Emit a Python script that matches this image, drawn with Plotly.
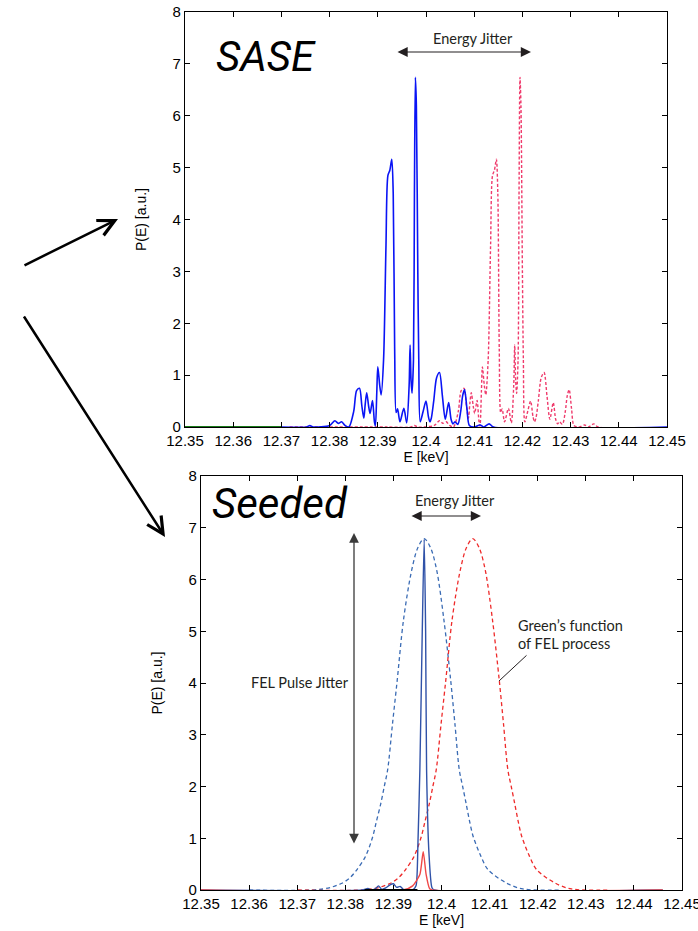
import plotly.graph_objects as go

# ---------------- data ----------------
# SASE single-shot spectrum (top panel), E in keV, P in a.u.
sase_E = [12.3500, 12.3700, 12.3752, 12.3759, 12.3766, 12.3800, 12.3811, 12.3818,
          12.3825, 12.3832, 12.3840, 12.3850, 12.3856, 12.3862, 12.3867, 12.3871,
          12.3874, 12.3877, 12.3881, 12.3884, 12.3889, 12.3893, 12.3895, 12.3898,
          12.3900, 12.3904, 12.3907, 12.3912, 12.3917, 12.3921, 12.3925, 12.3929,
          12.3932, 12.3935, 12.3938, 12.3941, 12.3946, 12.3954, 12.3960, 12.3965,
          12.3967, 12.3969, 12.3971, 12.3974, 12.3976, 12.3978, 12.3980, 12.3983,
          12.3985, 12.3988, 12.3994, 12.4000, 12.4005, 12.4008, 12.4011, 12.4016,
          12.4022, 12.4028, 12.4034, 12.4040, 12.4047, 12.4052, 12.4056, 12.4060,
          12.4066, 12.4072, 12.4076, 12.4080, 12.4085, 12.4090, 12.4100, 12.4112,
          12.4120, 12.4131, 12.4140, 12.4500]
sase_P = [0.00, 0.00, 0.00, 0.03, 0.00, 0.03, 0.12, 0.07,
          0.10, 0.03, 0.00, 0.30, 0.70, 0.745, 0.40, 0.17,
          0.45, 0.66, 0.40, 0.26, 0.51, 0.10, 0.02, 0.70,
          1.16, 0.80, 0.62, 1.30, 3.50, 4.85, 4.95, 5.16,
          4.50, 1.50, 0.28, 0.35, 0.10, 0.36, 0.08, 0.80,
          1.58, 0.90, 0.65, 1.30, 4.50, 6.74, 6.20, 3.00,
          1.30, 0.10, 0.30, 0.50, 0.20, 0.10, 0.17, 0.50,
          0.95, 1.05, 0.60, 0.15, 0.47, 0.15, 0.06, 0.10,
          0.05, 0.30, 0.60, 0.72, 0.35, 0.03, 0.00, 0.04,
          0.00, 0.06, 0.00, 0.00]
sase_jitter = 0.0217          # shot-to-shot energy jitter of the SASE spectrum (keV)
sase_E2 = [e + sase_jitter for e in sase_E]
green_base_E = [12.3500, 12.3700]
green_base_P = [0.0, 0.0]

# Seeded case (bottom panel): Green's function of the FEL process
gf_E = [12.3600, 12.3754, 12.3793, 12.3810, 12.3824, 12.3842, 12.3857, 12.3864,
        12.3874, 12.3881, 12.3888, 12.3898, 12.3908, 12.3921, 12.3938, 12.3951,
        12.3964, 12.3977, 12.3990, 12.4005, 12.4019, 12.4028, 12.4037, 12.4044,
        12.4051, 12.4059, 12.4066, 12.4082, 12.4097, 12.4136, 12.4169, 12.4250]
gf_P = [0.00, 0.02, 0.13, 0.24, 0.39, 0.65, 1.03, 1.30,
        1.68, 2.00, 2.32, 3.20, 4.06, 5.22, 6.18, 6.62,
        6.79, 6.62, 6.18, 5.22, 4.06, 3.20, 2.32, 2.00,
        1.68, 1.30, 1.03, 0.65, 0.39, 0.13, 0.02, 0.00]
seed_jitter = 0.0101          # energy jitter of the Green's function (keV)
gf_E2 = [e + seed_jitter for e in gf_E]

# seeded output spectra (solid)
seed_blue_E = [12.3500, 12.3835, 12.3847, 12.3855, 12.3862, 12.3869, 12.3876, 12.3884,
               12.3893, 12.3900, 12.3907, 12.3914, 12.3922, 12.3940, 12.3947, 12.3951,
               12.3955, 12.3960, 12.3964, 12.3967, 12.3969, 12.3974, 12.3980, 12.3985,
               12.4460]
seed_blue_P = [0.00, 0.00, 0.03, 0.00, 0.02, 0.08, 0.01, 0.04,
               0.10, 0.12, 0.05, 0.07, 0.00, 0.00, 0.08, 0.90,
               2.32, 5.00, 6.78, 5.00, 2.32, 0.70, 0.05, 0.00,
               0.00]
seed_red_E = [12.3500, 12.3920, 12.3940, 12.3955, 12.3962, 12.3968, 12.3975, 12.3980, 12.4460]
seed_red_P = [0.00, 0.00, 0.08, 0.30, 0.74, 0.30, 0.03, 0.00, 0.00]
dark_base_E = [12.3840, 12.3950]
dark_base_P = [0.0, 0.0]

x_ticks = [12.35, 12.36, 12.37, 12.38, 12.39, 12.40, 12.41, 12.42, 12.43, 12.44, 12.45]
x_tick_text = ["12.35", "12.36", "12.37", "12.38", "12.39", "12.4",
               "12.41", "12.42", "12.43", "12.44", "12.45"]
y_ticks = [0, 1, 2, 3, 4, 5, 6, 7, 8]

# ---------------- figure ----------------
W, H = 698, 931


def px(x):
    return x / W


def py(y):
    return 1 - y / H


fig = go.Figure()

# top panel
fig.add_trace(go.Scatter(x=sase_E2, y=sase_P, mode="lines", xaxis="x", yaxis="y",
                         line=dict(color="#ef3b6c", width=1.4, dash="3px,2px",
                                   shape="spline", smoothing=0.8)))
fig.add_trace(go.Scatter(x=sase_E, y=sase_P, mode="lines", xaxis="x", yaxis="y",
                         line=dict(color="#0a14f5", width=1.6, shape="spline", smoothing=0.8)))
fig.add_trace(go.Scatter(x=green_base_E, y=green_base_P, mode="lines", xaxis="x", yaxis="y",
                         line=dict(color="#1a7a1a", width=2)))

# bottom panel
fig.add_trace(go.Scatter(x=gf_E, y=gf_P, mode="lines", xaxis="x2", yaxis="y2",
                         line=dict(color="#3a6bb4", width=1.3, dash="4px,3px",
                                   shape="spline", smoothing=0.9)))
fig.add_trace(go.Scatter(x=gf_E2, y=gf_P, mode="lines", xaxis="x2", yaxis="y2",
                         line=dict(color="#ee2a2a", width=1.3, dash="4px,3px",
                                   shape="spline", smoothing=0.9)))
fig.add_trace(go.Scatter(x=seed_blue_E, y=seed_blue_P, mode="lines", xaxis="x2", yaxis="y2",
                         line=dict(color="#3052a8", width=1.4, shape="spline", smoothing=0.6)))
fig.add_trace(go.Scatter(x=seed_red_E, y=seed_red_P, mode="lines", xaxis="x2", yaxis="y2",
                         line=dict(color="#f04848", width=1.4, shape="spline", smoothing=0.6)))
fig.add_trace(go.Scatter(x=dark_base_E, y=dark_base_P, mode="lines", xaxis="x2", yaxis="y2",
                         line=dict(color="black", width=2)))

tick_font = dict(family="Liberation Sans, Arial, sans-serif", size=15, color="black")
title_font = dict(family="Liberation Sans, Arial, sans-serif", size=14, color="black")

xcommon = dict(range=[12.35, 12.45], tickvals=x_ticks, ticktext=x_tick_text,
               ticks="inside", ticklen=5, tickcolor="black", showline=True,
               linecolor="black", linewidth=1.2, mirror="ticks", showgrid=False,
               zeroline=False, tickfont=tick_font, fixedrange=True, automargin=False,
               ticklabeloverflow="allow",
               title=dict(text="E [keV]", font=title_font, standoff=4))
ycommon = dict(range=[0, 8], tickvals=y_ticks, ticks="inside", ticklen=5,
               tickcolor="black", showline=True, linecolor="black", linewidth=1.2,
               mirror="ticks", showgrid=False, zeroline=False, tickfont=tick_font,
               fixedrange=True, automargin=False, ticklabeloverflow="allow",
               title=dict(text="P(E) [a.u.]", font=title_font, standoff=22))

fig.update_layout(
    width=W, height=H,
    margin=dict(l=0, r=0, t=0, b=0, pad=0, autoexpand=False),
    paper_bgcolor="white", plot_bgcolor="white",
    showlegend=False,
    xaxis=dict(domain=[px(185), px(667)], anchor="y", **xcommon),
    yaxis=dict(domain=[py(427), py(12)], anchor="x", **ycommon),
    xaxis2=dict(domain=[px(201), px(682)], anchor="y2", **xcommon),
    yaxis2=dict(domain=[py(890), py(476)], anchor="x2", **ycommon),
)

label_font = dict(family="Lato, Open Sans, sans-serif", size=14.5, color="#231f20")
big_font = dict(family="Roboto, Liberation Sans, Arial, sans-serif",
                size=42, color="black", style="italic")

annotations = [
    dict(x=px(266), y=py(57), text="SASE", font=big_font),
    dict(x=px(280), y=py(503), text="Seeded", font=big_font),
    dict(x=px(473), y=py(38), text="Energy Jitter", font=label_font),
    dict(x=px(455), y=py(500), text="Energy Jitter", font=label_font),
    dict(x=px(300), y=py(682), text="FEL Pulse Jitter", font=label_font),
    dict(x=px(516), y=py(625), text="Green\u2019s function", font=label_font, xanchor="left"),
    dict(x=px(516), y=py(643), text="of FEL process", font=label_font, xanchor="left"),
]
for a in annotations:
    a.update(xref="paper", yref="paper", showarrow=False)
    a.setdefault("xanchor", "center")
    a.setdefault("yanchor", "middle")

# arrows: (head x, head y, tail x, tail y) in pixels
arrow_specs = [
    # pointers to the two panels
    dict(head=(118, 219), tail=(23, 266), arrowhead=5, width=2.5, size=1.3,
         color="black", both=False),
    dict(head=(165, 537), tail=(23, 315), arrowhead=5, width=2.5, size=1.3,
         color="black", both=False),
    # energy jitter arrows
    dict(head=(531, 52), tail=(396, 52), arrowhead=2, width=1.2, size=1.7,
         color="#231f20", both=True),
    dict(head=(481, 516), tail=(410, 516), arrowhead=2, width=1.2, size=1.7,
         color="#231f20", both=True),
    # pulse jitter arrow
    dict(head=(354, 533), tail=(354, 845), arrowhead=2, width=1.3, size=1.5,
         color="#3a3a3a", both=True),
    # leader line to the Green's function
    dict(head=(499, 681), tail=(528, 654), arrowhead=0, width=1.0, size=1.0,
         color="#231f20", both=False),
]
for s in arrow_specs:
    hx, hy = s["head"]
    tx, ty = s["tail"]
    a = dict(xref="paper", yref="paper", x=px(hx), y=py(hy), ax=tx - hx, ay=ty - hy,
             text="", showarrow=True, arrowhead=s["arrowhead"], arrowwidth=s["width"],
             arrowsize=s["size"], arrowcolor=s["color"])
    if s["both"]:
        a.update(arrowside="end+start", startarrowhead=s["arrowhead"],
                 startarrowsize=s["size"])
    annotations.append(a)

fig.update_layout(annotations=annotations)

# page without the default body margin so the figure fills the window exactly
fig.write_html("out.html",
               post_script="document.body.style.margin='0';document.body.style.padding='0';")
